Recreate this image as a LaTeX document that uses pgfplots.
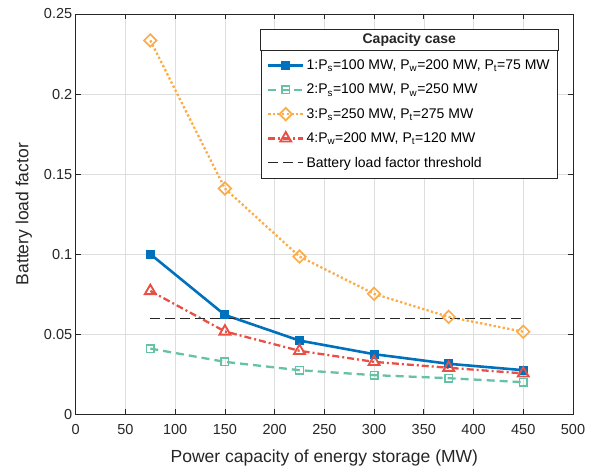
\documentclass[border=0pt]{standalone}
\usepackage{fontspec}
\setmainfont{Liberation Sans}
\usepackage{pgfplots}
\pgfplotsset{compat=1.18}
\usetikzlibrary{calc}
\definecolor{c1}{RGB}{0,114,189}
\definecolor{c2}{RGB}{102,194,165}
\definecolor{c3}{RGB}{252,172,72}
\definecolor{c4}{RGB}{232,80,70}
\definecolor{axc}{RGB}{38,38,38}
\definecolor{gridc}{RGB}{222,222,222}
\begin{document}
\begin{tikzpicture}
\begin{axis}[
  name=ax,
  scale only axis,
  width=497pt, height=400pt,
  xmin=0, xmax=500, ymin=0, ymax=0.25,
  xtick={0,50,...,500},
  ytick={0,0.05,0.1,0.15,0.2,0.25},
  yticklabels={0,0.05,0.1,0.15,0.2,0.25},
  /pgf/number format/assume math mode=true,
  tick label style={font=\fontsize{14.5}{16}\selectfont, text=axc},
  xticklabel style={yshift=-7pt},
  label style={font=\fontsize{17.5}{20}\selectfont, text=axc},
  xlabel={Power capacity of energy storage (MW)},
  ylabel={Battery load factor},
  xlabel style={yshift=-8pt},
  ylabel style={yshift=5pt},
  axis line style={axc, line width=0.7pt},
  tick style={axc, line width=0.7pt},
  major tick length=5pt,
  tick align=inside,
  grid=major,
  major grid style={gridc, line width=0.6pt},
  legend cell align=left,
  legend style={name=leg, at={(0.97,0.91)}, anchor=north east,
    draw=axc, line width=0.7pt, font=\fontsize{14}{16}\selectfont,
    row sep=9pt, inner xsep=6pt, inner ysep=7.5pt},
  legend image code/.code={\draw[mark repeat=2,mark phase=2] plot coordinates {(0pt,0pt) (17.5pt,0pt) (35pt,0pt)};},
]
\addplot[c1, line width=2.6pt, mark=square*, mark size=4pt, mark options={solid, fill=c1, line width=1pt}]
  coordinates {(75,0.100) (150,0.062) (225,0.046) (300,0.0375) (375,0.0315) (450,0.0275)};
\addlegendentry{1:P\textsubscript{s}=100 MW, P\textsubscript{w}=200 MW, P\textsubscript{t}=75 MW}
\addplot[c2, line width=2.3pt, dash pattern=on 8pt off 5pt, mark=square, mark size=3.8pt, mark options={solid, line width=1.5pt, fill=white}]
  coordinates {(75,0.041) (150,0.0327) (225,0.0275) (300,0.0244) (375,0.0225) (450,0.0200)};
\addlegendentry{2:P\textsubscript{s}=100 MW, P\textsubscript{w}=250 MW}
\addplot[c3, line width=2.3pt, dash pattern=on 2.3pt off 2.3pt, mark=square, mark size=4.4pt, mark options={solid, rotate=45, line width=1.7pt, fill=white}]
  coordinates {(75,0.2335) (150,0.1410) (225,0.0985) (300,0.0752) (375,0.0608) (450,0.0515)};
\addlegendentry{3:P\textsubscript{s}=250 MW, P\textsubscript{t}=275 MW}
\addplot[c4, line width=2.3pt, dash pattern=on 7pt off 3pt on 2pt off 3pt, mark=triangle, mark size=6.3pt, mark options={solid, line width=1.9pt, fill=white}]
  coordinates {(75,0.0770) (150,0.0517) (225,0.0396) (300,0.0327) (375,0.0290) (450,0.0255)};
\addlegendentry{4:P\textsubscript{w}=200 MW, P\textsubscript{t}=120 MW}
\addplot[black!85, line width=0.9pt, dash pattern=on 10pt off 5pt]
  coordinates {(75,0.06) (450,0.06)};
\addlegendentry{Battery load factor threshold}
\coordinate (sw) at (rel axis cs:0,0);
\coordinate (ne) at (rel axis cs:1,1);
\end{axis}
\draw[axc, line width=0.7pt, fill=white] (leg.north west) rectangle ([yshift=21pt]leg.north east);
\node[font=\bfseries\fontsize{14}{16}\selectfont, text=axc] at ($(leg.north west)!0.5!(leg.north east)+(0,10.5pt)$) {Capacity case};
\pgfresetboundingbox
\path ([xshift=-75.7pt,yshift=-52pt]sw) rectangle ([xshift=23pt,yshift=14pt]ne);
\end{tikzpicture}
\end{document}
